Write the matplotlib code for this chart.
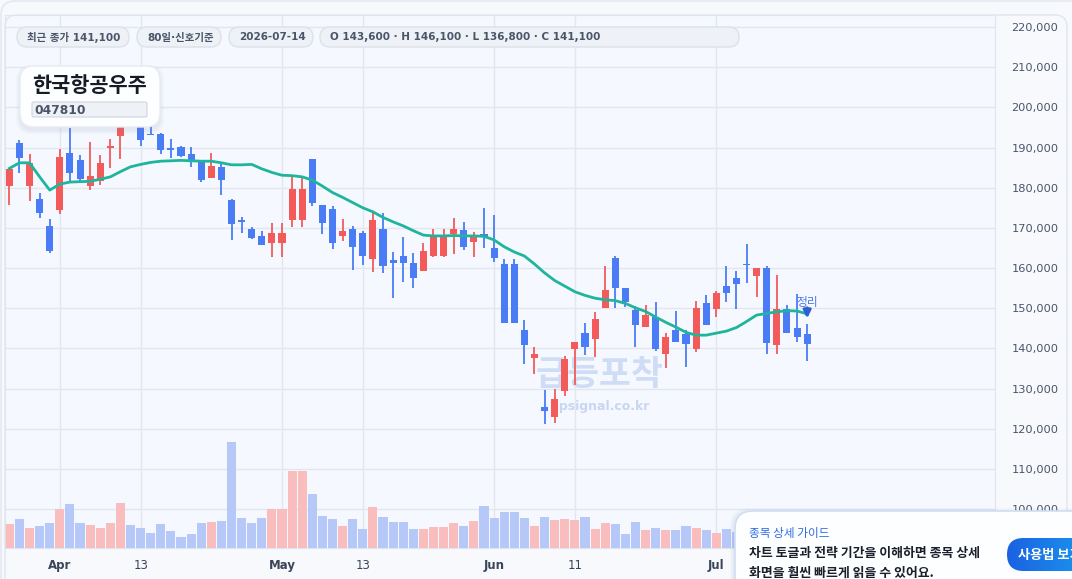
import numpy as np
import pandas as pd
import matplotlib.pyplot as plt
from matplotlib.patches import FancyBboxPatch
from matplotlib.colors import LinearSegmentedColormap

plt.rcParams['font.family'] = ['DejaVu Sans', 'Noto Sans CJK KR']

# 종목 정보
name = '한국항공우주'
code = '047810'
last_date = '2026-07-14'
dates = pd.bdate_range('2026-03-25', last_date)

# 일봉 (원)
opens = [180500, 191100, 180500, 177200, 170500, 174500, 188600, 186900, 180500, 181700,
         190000, 192900, 199500, 196000, 193200, 193400, 189600, 190100, 188400, 186900,
         182500, 185200, 176900, 171700, 169800, 168000, 166300, 166300, 172000, 172000,
         187100, 175700, 174700, 168100, 169700, 168700, 162300, 169700, 162000, 163000,
         161300, 159300, 163100, 163100, 168500, 169500, 166600, 168500, 165000, 161000,
         161000, 144600, 137700, 125300, 123000, 129400, 139900, 143800, 142300, 150100,
         162500, 155000, 149600, 145400, 147800, 138700, 144600, 143600, 139900, 151300,
         149700, 155500, 157500, 160900, 158100, 160000, 140900, 149800, 145100, 143600]
highs = [185000, 192000, 188400, 178700, 172200, 189600, 194900, 188200, 191400, 188200,
         192200, 198500, 201500, 197500, 196000, 193700, 192100, 190300, 190100, 187000,
         188600, 186000, 177200, 172600, 170100, 169200, 171200, 171200, 182700, 182400,
         187100, 175700, 175400, 172200, 170500, 169200, 174000, 173700, 164000, 167700,
         163700, 166200, 169700, 169700, 172500, 171500, 169000, 174900, 173200, 162300,
         162300, 147100, 140400, 129600, 129900, 138100, 141600, 146300, 149100, 160500,
         163000, 155000, 150600, 150800, 151600, 143800, 149300, 144600, 151800, 153300,
         154200, 160500, 159200, 166000, 160000, 160500, 158300, 150800, 153500, 146100]
lows = [175700, 183700, 176800, 172500, 163800, 173500, 181500, 181300, 179400, 180700,
        185000, 187100, 196000, 190500, 193000, 188500, 187400, 187600, 185200, 181400,
        182500, 178300, 167100, 168800, 167300, 165800, 162800, 162800, 170300, 170300,
        175500, 168600, 164800, 166800, 159600, 160800, 159100, 158800, 152600, 156600,
        155100, 159300, 162800, 162800, 163500, 164600, 162800, 165100, 161600, 146400,
        146400, 136200, 133700, 121300, 121500, 128200, 131000, 138400, 137900, 150100,
        150100, 150400, 140400, 145400, 139400, 135000, 141700, 135300, 139200, 145900,
        147700, 151500, 149800, 156400, 152700, 138700, 138700, 143900, 141700, 136800]
closes = [184700, 187500, 186200, 173800, 164300, 187600, 183700, 182200, 182900, 186100,
          190200, 196500, 197200, 192000, 193000, 189500, 189400, 188000, 186600, 181900,
          185400, 181900, 171000, 171500, 167600, 165800, 168700, 168700, 179700, 179700,
          176300, 171300, 166300, 169200, 165300, 163100, 172000, 160600, 161300, 161300,
          157600, 164200, 168200, 168200, 169700, 165300, 168000, 167800, 162600, 146400,
          146400, 140900, 138600, 124500, 127400, 137400, 141600, 140400, 147300, 154500,
          155100, 151600, 145900, 148300, 139900, 142800, 141700, 141200, 150100, 145900,
          153800, 153700, 156100, 160700, 160000, 141400, 149800, 143900, 142900, 141100]
# 거래량 (천주)
volumes = [240, 290, 200, 220, 250, 390, 440, 250, 230, 200,
           250, 450, 230, 200, 150, 240, 170, 110, 140, 250,
           260, 270, 1060, 300, 250, 300, 390, 390, 770, 770,
           540, 320, 290, 220, 290, 190, 410, 310, 260, 260,
           190, 190, 210, 210, 250, 220, 270, 420, 300, 360,
           360, 300, 220, 310, 280, 290, 280, 310, 190, 250,
           240, 140, 260, 180, 200, 180, 180, 220, 200, 180,
           150, 190, 160, 230, 170, 330, 300, 190, 200, 210]
# 이동평균선 (천원)
ma = [184.8, 186.2, 186.2, 182.7, 179.4, 180.9, 181.4, 181.5, 181.6, 182.1,
      182.7, 184.0, 185.2, 185.8, 186.3, 186.6, 186.7, 186.8, 186.7, 186.6,
      186.6, 186.2, 185.7, 185.7, 185.8, 184.7, 183.8, 183.1, 183.0, 182.7,
      181.9, 180.4, 178.8, 177.6, 176.3, 175.0, 174.0, 172.6, 171.5, 170.5,
      169.3, 168.2, 168.0, 168.0, 168.1, 168.0, 168.0, 167.9, 167.0, 165.3,
      164.0, 163.0, 161.0, 158.8, 156.9, 155.5, 154.1, 153.2, 152.5, 152.1,
      151.9, 151.2, 150.1, 149.2, 147.8, 146.5, 145.3, 144.0, 143.3, 143.3,
      143.8, 144.3, 145.2, 146.7, 148.3, 148.7, 149.1, 149.4, 149.3, 148.6]
tick_dates = ['2026-04-01', '2026-04-13', '2026-05-01', '2026-05-13',
              '2026-06-01', '2026-06-11', '2026-07-01']
signal_label = '정리'

RED = '#f35b5b'
BLUE = '#4a7cf6'
RED_V = '#f9bdbe'
BLUE_V = '#b6c8f8'

o = np.array(opens)
h = np.array(highs)
l = np.array(lows)
c = np.array(closes)
x = np.arange(len(dates))
up = c >= o
colors = np.where(up, RED, BLUE)

fig = plt.figure(figsize=(10.72, 5.79), dpi=100)
fig.patch.set_facecolor('#f7f9fc')

ax = fig.add_axes([5 / 1072, 31 / 579, 990 / 1072, 533 / 579])
ax.set_facecolor('#f5f8fe')
ax.set_zorder(1)

# 캔들
ax.vlines(x, l, h, color=colors, lw=1.3, zorder=3)
body = np.maximum(np.abs(c - o), 400)
ax.bar(x, body, bottom=np.minimum(o, c), width=0.7, color=colors, zorder=3)

# 이동평균
ax.plot(x, np.array(ma) * 1000, color='#1fb59c', lw=2, zorder=4)

# 거래량 (하단)
vax = ax.twinx()
vax.bar(x, volumes, width=0.9, color=np.where(up, RED_V, BLUE_V), zorder=2)
vax.set_ylim(0, max(volumes) * 533 / 106)
vax.yaxis.set_visible(False)
for s in vax.spines.values():
    s.set_visible(False)

ax.set_xlim(-0.43, 97.6)
ax.set_ylim(90320, 222990)

yt = np.arange(100000, 230000, 10000)
ax.yaxis.tick_right()
ax.set_yticks(yt)
ax.set_yticklabels([f'{v:,}' for v in yt])
ax.tick_params(axis='y', length=0, pad=12, labelsize=8.2, labelcolor='#4a5568')

xt = [dates.get_loc(pd.Timestamp(d)) for d in tick_dates]
ax.set_xticks(xt)
ax.set_xticklabels([dates[i].strftime('%b') if dates[i].day == 1 else str(dates[i].day) for i in xt])
ax.tick_params(axis='x', length=0, pad=8, labelsize=8.5, labelcolor='#3a4558')
for i, lab in zip(xt, ax.get_xticklabels()):
    if dates[i].day == 1:
        lab.set_fontweight('bold')

ax.grid(color='#e2e7ef', lw=1)
ax.set_axisbelow(True)
for s in ax.spines.values():
    s.set_color('#e0e6ee')

# 워터마크
ax.text(0.601, 0.325, '급등포착', transform=ax.transAxes, ha='center', va='center',
        fontsize=25, fontweight='bold', color='#cfdcf6', family='Noto Sans CJK KR', zorder=0.5)
ax.text(0.601, 0.265, 'upsignal.co.kr', transform=ax.transAxes, ha='center', va='center',
        fontsize=9, fontweight='bold', color='#c8d6f0', zorder=0.5)

# 신호
ax.annotate('', xy=(x[-1], h[-1]), xytext=(0, 16), textcoords='offset pixels',
            arrowprops=dict(arrowstyle='-|>', color='#2c5fd4', lw=2.2, mutation_scale=11,
                            shrinkA=0, shrinkB=4), zorder=5)
ax.annotate(signal_label, xy=(x[-1], h[-1]), xytext=(0, 21), textcoords='offset pixels',
            ha='center', va='center', fontsize=8.5, color='#4d7be0', zorder=5)

# 장식 (픽셀 좌표)
deco = fig.add_axes([0, 0, 1, 1])
deco.set_xlim(0, 1072)
deco.set_ylim(579, 0)
deco.axis('off')
deco.set_zorder(5)

deco.add_patch(FancyBboxPatch((1, 1), 1100, 650, boxstyle='round,pad=0,rounding_size=14',
                              fc='none', ec='#e2e7ef', lw=1))
deco.add_patch(FancyBboxPatch((5, 15), 1062, 650, boxstyle='round,pad=0,rounding_size=12',
                              fc='none', ec='#e0e6ee', lw=1))

pills = [f'최근 종가 {closes[-1]:,}', f'{len(dates)}일·신호기준', last_date,
         f'O {opens[-1]:,} · H {highs[-1]:,} · L {lows[-1]:,} · C {closes[-1]:,}']
pill_box = [(17, 112), (137, 84), (229, 84), (320, 419)]
for txt, (px, pw) in zip(pills, pill_box):
    deco.add_patch(FancyBboxPatch((px, 27), pw, 20, boxstyle='round,pad=0,rounding_size=10',
                                  fc='#eef2f7', ec='#dce2ea', lw=1))
    deco.text(px + 10, 37.5, txt, ha='left', va='center', fontsize=7.5,
              fontweight='bold', color='#4a5568')

# 종목명 박스
for k in range(4, 0, -1):
    deco.add_patch(FancyBboxPatch((20 - k, 66 - k + 3), 140 + 2 * k, 61 + 2 * k,
                                  boxstyle='round,pad=0,rounding_size=15',
                                  fc='#8090aa', ec='none', alpha=0.035))
deco.add_patch(FancyBboxPatch((20, 66), 140, 61, boxstyle='round,pad=0,rounding_size=14',
                              fc='#fdfeff', ec='#e8ecf2', lw=1))
deco.text(32, 86, name, ha='left', va='center', fontsize=15, fontweight='bold',
          color='#161b26', family='Noto Sans CJK KR')
deco.add_patch(FancyBboxPatch((32, 102), 115, 15, boxstyle='round,pad=0,rounding_size=1.5',
                              fc='#eef1f6', ec='#cfd6e0', lw=0.8))
deco.text(34, 110, code, ha='left', va='center', fontsize=8.8, fontweight='bold', color='#4a5568')

# 가이드 카드
for k in range(5, 0, -1):
    deco.add_patch(FancyBboxPatch((735 - k, 511 - k + 2), 400 + 2 * k, 120,
                                  boxstyle='round,pad=0,rounding_size=18',
                                  fc='#6f86b0', ec='none', alpha=0.03))
deco.add_patch(FancyBboxPatch((735, 511), 400, 120, boxstyle='round,pad=0,rounding_size=18',
                              fc='#fdfeff', ec='#d2ddf4', lw=1.2))
deco.text(749, 534, '종목 상세 가이드', ha='left', va='center', fontsize=8.4,
          color='#2d6ae3', family='Noto Sans CJK KR')
deco.text(749, 553, '차트 토글과 전략 기간을 이해하면 종목 상세', ha='left', va='center',
          fontsize=9.3, fontweight='bold', color='#1a1f2b', family='Noto Sans CJK KR')
deco.text(749, 573, '화면을 훨씬 빠르게 읽을 수 있어요.', ha='left', va='center',
          fontsize=9.3, fontweight='bold', color='#1a1f2b', family='Noto Sans CJK KR')

btn = FancyBboxPatch((1007, 538), 100, 33, boxstyle='round,pad=0,rounding_size=16.5',
                     fc='none', ec='none')
deco.add_patch(btn)
grad = deco.imshow(np.linspace(0, 1, 100).reshape(1, -1), extent=(1007, 1107, 571, 538),
                   cmap=LinearSegmentedColormap.from_list('btn', ['#1a62e2', '#1aa2ef']),
                   aspect='auto', zorder=2)
grad.set_clip_path(btn)
deco.set_xlim(0, 1072)
deco.set_ylim(579, 0)
deco.text(1018, 555, '사용법 보기', ha='left', va='center', fontsize=9.5, fontweight='bold',
          color='white', family='Noto Sans CJK KR', zorder=3)

fig.savefig('out.png', dpi=100, facecolor=fig.get_facecolor())
